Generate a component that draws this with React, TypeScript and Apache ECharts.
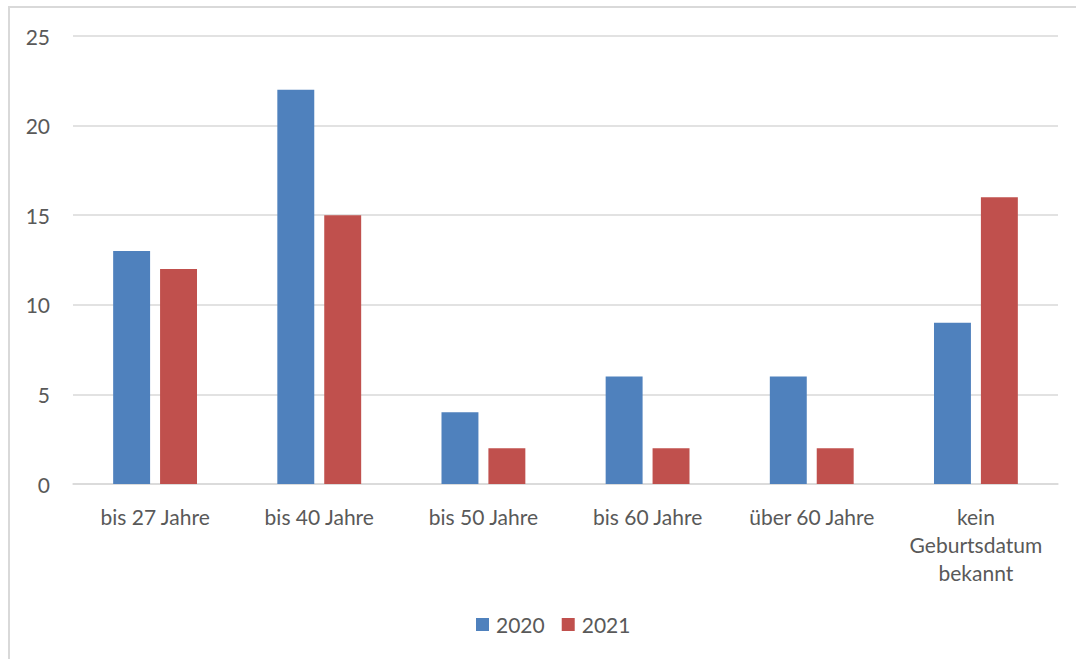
import React, { useEffect, useRef } from "react";
import * as echarts from "echarts";

const categories = [
  "bis 27 Jahre",
  "bis 40 Jahre",
  "bis 50 Jahre",
  "bis 60 Jahre",
  "über 60 Jahre",
  "kein\nGeburtsdatum\nbekannt",
];
const values2020 = [13, 22, 4, 6, 6, 9];
const values2021 = [12, 15, 2, 2, 2, 16];
const yTicks = { min: 0, max: 25, interval: 5 };

const FONT = "Lato, 'Open Sans', sans-serif";
const TEXT = "#595959";
const GRID = "#d9d9d9";
const FS = 21;

export default function App() {
  const ref = useRef<HTMLDivElement>(null);

  useEffect(() => {
    if (!ref.current) return;
    const chart = echarts.init(ref.current, undefined, { renderer: "svg" });
    chart.setOption({
      animation: false,
      textStyle: { fontFamily: FONT, color: TEXT },
      grid: { left: 73, right: 18, top: 36, bottom: 175, containLabel: false },
      legend: {
        bottom: 19,
        left: 471,
        icon: "rect",
        itemWidth: 13,
        itemHeight: 13,
        itemGap: 17,
        textStyle: { fontFamily: FONT, fontSize: FS, color: TEXT, padding: [0, 0, 0, 2] },
        data: ["2020", "2021"],
      },
      xAxis: {
        type: "category",
        data: categories,
        axisLine: { lineStyle: { color: GRID, width: 1.5 } },
        axisTick: { show: false },
        axisLabel: {
          fontFamily: FONT,
          fontSize: FS,
          color: TEXT,
          margin: 18,
          lineHeight: 28,
          interval: 0,
        },
      },
      yAxis: {
        type: "value",
        min: yTicks.min,
        max: yTicks.max,
        interval: yTicks.interval,
        axisLine: { show: false },
        axisTick: { show: false },
        splitLine: { lineStyle: { color: GRID, width: 1.5 } },
        axisLabel: { fontFamily: FONT, fontSize: FS, color: TEXT, margin: 23 },
      },
      series: [
        {
          name: "2020",
          type: "bar",
          data: values2020,
          barWidth: "22.5%",
          barGap: "27%",
          itemStyle: { color: "#4f81bd" },
        },
        {
          name: "2021",
          type: "bar",
          data: values2021,
          barWidth: "22.5%",
          barGap: "27%",
          itemStyle: { color: "#c0504d" },
        },
      ],
    });
    return () => chart.dispose();
  }, []);

  return (
    <div
      style={{
        position: "absolute",
        left: 0,
        top: 0,
        width: 1076,
        height: 659,
        overflow: "hidden",
        background: "#fff",
      }}
    >
      <div
        style={{
          position: "absolute",
          left: 8,
          top: 6,
          width: 1200,
          height: 800,
          border: `2px solid ${GRID}`,
        }}
      />
      <div
        ref={ref}
        style={{ position: "absolute", left: 0, top: 0, width: 1076, height: 659 }}
      />
    </div>
  );
}
